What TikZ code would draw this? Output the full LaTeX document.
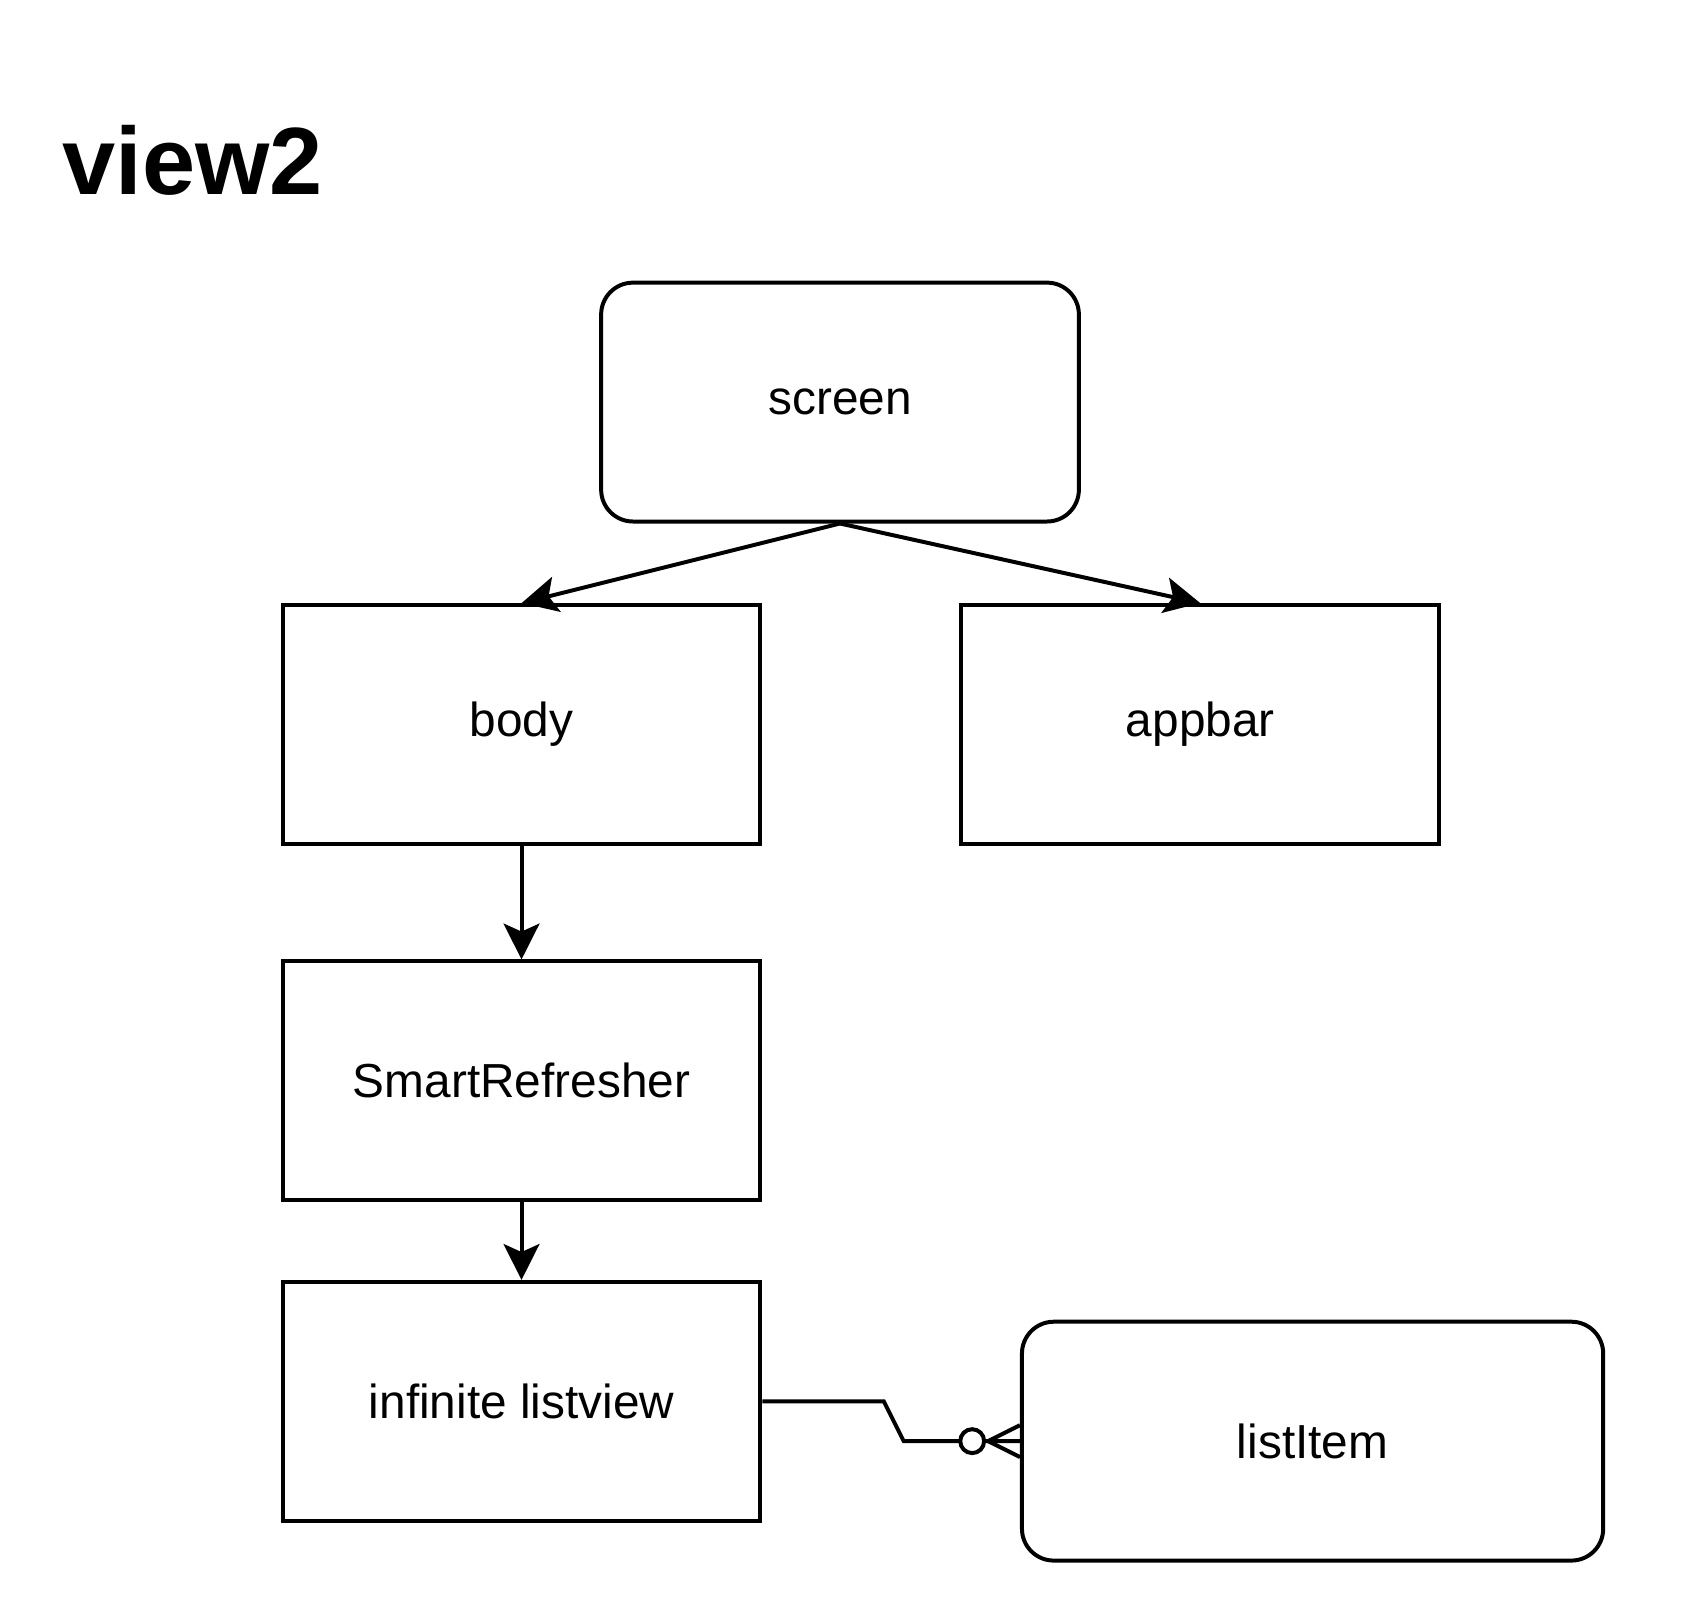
\documentclass[tikz,border=0pt]{standalone}
\usepackage{fontspec}
\setmainfont{Liberation Sans}
\usetikzlibrary{arrows.meta,positioning}

\tikzset{
	block/.style={draw, line width=1pt, minimum width=120pt, minimum height=60pt, inner sep=0pt, font=\fontsize{12}{14}\selectfont},
	roundblock/.style={block, rounded corners=8pt},
	link/.style={line width=1pt, -{Stealth[length=9pt, width=9pt, inset=2pt]}},
	erline/.style={line width=1pt},
}

\begin{document}
\begin{tikzpicture}[x=1pt, y=-1pt]
	% Page size
	\useasboundingbox (0,0) rectangle (423,403);
	
	% Draw title
	\node[anchor=base west, inner sep=0pt, font=\fontsize{24}{28}\selectfont\bfseries] (title) at (15.5,48.8) {view2};
	
	% Draw the widget boxes
	\node[roundblock] (screen) at (211,101) {screen};
	\node[block] (body) at (131,182) {body};
	\node[block] (appbar) at (301.5,182) {appbar};
	\node[block] (refresher) at (131,271.5) {SmartRefresher};
	\node[block] (listview) at (131,352) {infinite listview};
	\node[roundblock, minimum width=146pt] (listitem) at (329.7,362) {listItem};
	
	% Draw arrows
	\draw[link] (screen.south) -- (body.north);
	\draw[link] (screen.south) -- (appbar.north);
	\draw[link] (body) -- (refresher);
	\draw[link] (refresher) -- (listview);
	
	% Zero-to-many link to the list items
	\draw[erline] (listview.east) -- ++(30.5,0) -- ++(5,10) -- (listitem.west);
	\coordinate (foot) at ([xshift=-8pt]listitem.west); % Crow's foot apex
	\draw[erline] (foot) -- ([yshift=4pt]listitem.west);
	\draw[erline] (foot) -- ([yshift=-4pt]listitem.west);
	\draw[erline, fill=white] ([xshift=-12pt]listitem.west) circle (3pt); % Zero mark
\end{tikzpicture}
\end{document}
